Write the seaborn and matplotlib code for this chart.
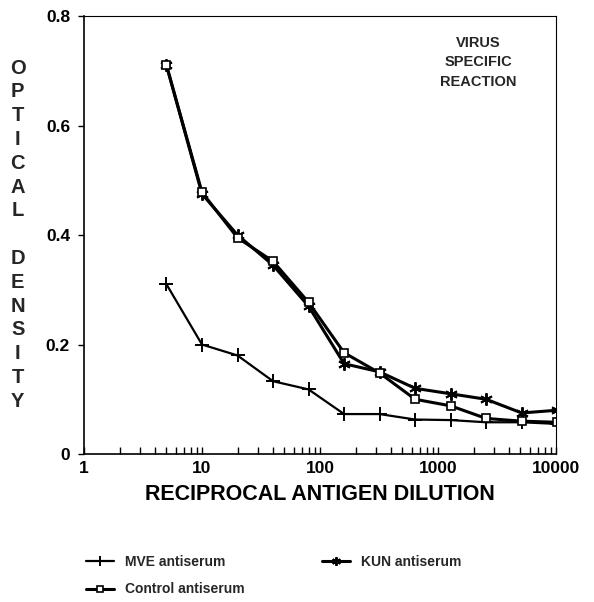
import numpy as np
import pandas as pd
import seaborn as sns
import matplotlib
matplotlib.use("Agg")
import matplotlib.pyplot as plt
from matplotlib.ticker import LogLocator, FixedLocator, NullFormatter

dilution = [5, 10, 20, 40, 80, 160, 320, 640, 1280, 2560, 5120, 10240]
mve = [0.31, 0.20, 0.18, 0.133, 0.118, 0.073, 0.073, 0.063, 0.062, 0.058, 0.058, 0.055]
kun = [0.71, 0.475, 0.40, 0.345, 0.27, 0.165, 0.15, 0.12, 0.11, 0.10, 0.075, 0.08]
control = [0.71, 0.478, 0.395, 0.352, 0.277, 0.185, 0.148, 0.10, 0.088, 0.065, 0.060, 0.058]
series_names = ["MVE antiserum", "KUN antiserum", "Control antiserum"]
x_ticks = [1, 10, 100, 1000, 10000]
x_ticklabels = ["1", "10", "100", "1000", "10000"]
y_ticks = [0, 0.2, 0.4, 0.6, 0.8]
y_ticklabels = ["0", "0.2", "0.4", "0.6", "0.8"]

sns.set_theme(style="white")
plt.rcParams['font.family'] = ['Liberation Sans', 'DejaVu Sans']
plt.rcParams['font.weight'] = 'bold'

fig = plt.figure(figsize=(5.94, 6.02), dpi=100)
ax = fig.add_axes([0.1414, 0.2458, 0.7946, 0.7276])

df_mve = pd.DataFrame({"x": dilution, "y": mve})
df_kun = pd.DataFrame({"x": dilution, "y": kun})
df_ctl = pd.DataFrame({"x": dilution, "y": control})

sns.lineplot(data=df_mve, x="x", y="y", ax=ax, color="black", lw=1.6,
             marker="+", markersize=10, markeredgewidth=1.4,
             markeredgecolor="black", label=series_names[0])
sns.lineplot(data=df_kun, x="x", y="y", ax=ax, color="black", lw=2.2,
             marker=(6, 2, 0), markersize=9, markeredgewidth=1.4,
             markeredgecolor="black", label=series_names[1])
sns.lineplot(data=df_ctl, x="x", y="y", ax=ax, color="black", lw=2.2,
             marker="s", markersize=6, markerfacecolor="white",
             markeredgecolor="black", markeredgewidth=1.2, label=series_names[2])

ax.set_xscale("log")
ax.set_xlim(1, 10000)
ax.set_ylim(0, 0.8)
ax.xaxis.set_major_locator(FixedLocator(x_ticks))
ax.set_xticklabels(x_ticklabels)
ax.xaxis.set_minor_locator(LogLocator(base=10, subs=np.arange(2, 10)))
ax.xaxis.set_minor_formatter(NullFormatter())
ax.set_yticks(y_ticks)
ax.set_yticklabels(y_ticklabels)
ax.tick_params(axis="x", which="both", direction="in", length=5, width=1,
               bottom=True, labelsize=12.5, pad=5, colors="black")
ax.tick_params(axis="y", which="major", direction="out", length=4, width=1,
               left=True, labelsize=12.5, pad=6, colors="black")
for lab in ax.get_xticklabels() + ax.get_yticklabels():
    lab.set_fontweight("bold")

for s in ax.spines.values():
    s.set_color("black")
    s.set_linewidth(1.2)
ax.spines["top"].set_linewidth(0.8)
ax.spines["right"].set_linewidth(0.8)

ax.set_xlabel("RECIPROCAL ANTIGEN DILUTION", fontsize=15.5, fontweight="bold",
              labelpad=6, color="black")
ax.set_ylabel("")
fig.text(0.03, 0.61, "\n".join("OPTICAL") + "\n\n" + "\n".join("DENSITY"),
         ha="center", va="center", fontsize=14.5, fontweight="bold",
         linespacing=1.32)

ax.text(0.835, 0.955, "VIRUS\nSPECIFIC\nREACTION", transform=ax.transAxes,
        ha="center", va="top", fontsize=10.5, fontweight="bold", linespacing=1.5)

handles, labels = ax.get_legend_handles_labels()
ax.get_legend().remove()
order = [0, 2, 1]
fig.legend([handles[i] for i in order], [labels[i] for i in order],
           loc="upper left", bbox_to_anchor=(0.135, 0.088), ncol=2,
           frameon=False, fontsize=10, handlelength=2.0, markerscale=0.7,
           columnspacing=5.6, labelspacing=1.0, borderaxespad=0)

fig.savefig("out.png", dpi=100)
